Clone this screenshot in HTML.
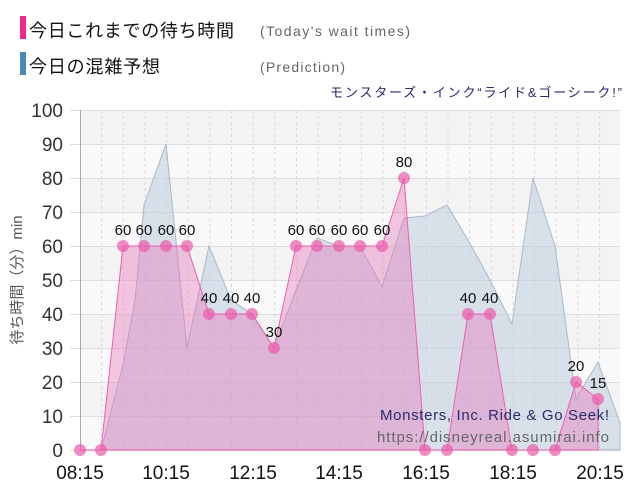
<!DOCTYPE html>
<html><head><meta charset="utf-8"><style>
body{margin:0;background:#fff;width:640px;height:500px;overflow:hidden}
svg{display:block}
text{font-family:"Liberation Sans","Noto Sans CJK JP",sans-serif}
</style></head><body>
<svg width="640" height="500" viewBox="0 0 640 500">
<rect x="20" y="16" width="6" height="23" fill="#f0288c"/>
<text x="29" y="37" font-size="18" fill="#111" textLength="205">今日これまでの待ち時間</text>
<text x="260" y="36" font-size="14" fill="#666" textLength="150">(Today's wait times)</text>
<rect x="20" y="52" width="6" height="23" fill="#4a86b8"/>
<text x="29" y="73" font-size="18" fill="#111" textLength="131">今日の混雑予想</text>
<text x="260" y="72" font-size="14" fill="#666" textLength="85">(Prediction)</text>
<text x="330" y="97" font-size="13" fill="#2a2a70" textLength="292">モンスターズ・インク“ライド&amp;ゴーシーク!”</text>
<g fill="#f3f3f3">
<rect x="80" y="110" width="540" height="34"/><rect x="80" y="178" width="540" height="34"/><rect x="80" y="246" width="540" height="34"/><rect x="80" y="314" width="540" height="34"/><rect x="80" y="382" width="540" height="34"/>
</g>
<g fill="#f9f9f9">
<rect x="80" y="144" width="540" height="34"/><rect x="80" y="212" width="540" height="34"/><rect x="80" y="280" width="540" height="34"/><rect x="80" y="348" width="540" height="34"/><rect x="80" y="416" width="540" height="34"/>
</g>
<g stroke="#ddd" stroke-width="1">
<line x1="70" y1="110.5" x2="620" y2="110.5"/><line x1="70" y1="144.5" x2="620" y2="144.5"/><line x1="70" y1="178.5" x2="620" y2="178.5"/><line x1="70" y1="212.5" x2="620" y2="212.5"/><line x1="70" y1="246.5" x2="620" y2="246.5"/><line x1="70" y1="280.5" x2="620" y2="280.5"/><line x1="70" y1="314.5" x2="620" y2="314.5"/><line x1="70" y1="348.5" x2="620" y2="348.5"/><line x1="70" y1="382.5" x2="620" y2="382.5"/><line x1="70" y1="416.5" x2="620" y2="416.5"/><line x1="70" y1="450.5" x2="620" y2="450.5"/>
</g>
<g stroke="#d8d8e4" stroke-width="1" stroke-dasharray="3,3">
<line x1="101.6" y1="110" x2="101.6" y2="450"/><line x1="123.3" y1="110" x2="123.3" y2="450"/><line x1="144.9" y1="110" x2="144.9" y2="450"/><line x1="166.6" y1="110" x2="166.6" y2="450"/><line x1="188.2" y1="110" x2="188.2" y2="450"/><line x1="209.9" y1="110" x2="209.9" y2="450"/><line x1="231.5" y1="110" x2="231.5" y2="450"/><line x1="253.2" y1="110" x2="253.2" y2="450"/><line x1="274.8" y1="110" x2="274.8" y2="450"/><line x1="296.5" y1="110" x2="296.5" y2="450"/><line x1="318.1" y1="110" x2="318.1" y2="450"/><line x1="339.8" y1="110" x2="339.8" y2="450"/><line x1="361.4" y1="110" x2="361.4" y2="450"/><line x1="383.1" y1="110" x2="383.1" y2="450"/><line x1="404.7" y1="110" x2="404.7" y2="450"/><line x1="426.4" y1="110" x2="426.4" y2="450"/><line x1="448" y1="110" x2="448" y2="450"/><line x1="469.7" y1="110" x2="469.7" y2="450"/><line x1="491.3" y1="110" x2="491.3" y2="450"/><line x1="513" y1="110" x2="513" y2="450"/><line x1="534.6" y1="110" x2="534.6" y2="450"/><line x1="556.3" y1="110" x2="556.3" y2="450"/><line x1="577.9" y1="110" x2="577.9" y2="450"/><line x1="599.6" y1="110" x2="599.6" y2="450"/>
</g>
<line x1="80.5" y1="110" x2="80.5" y2="450" stroke="#aaa"/>
<polygon fill="rgba(190,205,220,0.55)" stroke="#a9b9cc" stroke-width="1" points="80,450 101,450 123,365 135,300 144,205 166,144 187,348 209,246 231,300 252,314 274,348 296,290 317,238 339,246 360,246 382,287 404,218 425,216 447,205 468,240 490,280 512,324 533,178 555,246 576,399 598,362 620,423 620,450"/>
<polygon fill="rgba(235,110,185,0.38)" stroke="#ee5fae" stroke-width="1" points="80,450 101,450 123,246 144,246 166,246 187,246 209,314 231,314 252,314 274,348 296,246 317,246 339,246 360,246 382,246 404,178 425,450 447,450 468,314 490,314 512,450 533,450 555,450 576,382 598,399 598,450"/>
<g fill="rgba(235,90,170,0.7)">
<circle cx="80" cy="450" r="6"/><circle cx="101" cy="450" r="6"/><circle cx="123" cy="246" r="6"/><circle cx="144" cy="246" r="6"/><circle cx="166" cy="246" r="6"/><circle cx="187" cy="246" r="6"/><circle cx="209" cy="314" r="6"/><circle cx="231" cy="314" r="6"/><circle cx="252" cy="314" r="6"/><circle cx="274" cy="348" r="6"/><circle cx="296" cy="246" r="6"/><circle cx="317" cy="246" r="6"/><circle cx="339" cy="246" r="6"/><circle cx="360" cy="246" r="6"/><circle cx="382" cy="246" r="6"/><circle cx="404" cy="178" r="6"/><circle cx="425" cy="450" r="6"/><circle cx="447" cy="450" r="6"/><circle cx="468" cy="314" r="6"/><circle cx="490" cy="314" r="6"/><circle cx="512" cy="450" r="6"/><circle cx="533" cy="450" r="6"/><circle cx="555" cy="450" r="6"/><circle cx="576" cy="382" r="6"/><circle cx="598" cy="399" r="6"/>
</g>
<g font-size="15" fill="#111" text-anchor="middle">
<text x="123" y="235">60</text><text x="144" y="235">60</text><text x="166" y="235">60</text><text x="187" y="235">60</text>
<text x="209" y="303">40</text><text x="231" y="303">40</text><text x="252" y="303">40</text><text x="274" y="337">30</text>
<text x="296" y="235">60</text><text x="317" y="235">60</text><text x="339" y="235">60</text><text x="360" y="235">60</text><text x="382" y="235">60</text>
<text x="404" y="167">80</text><text x="468" y="303">40</text><text x="490" y="303">40</text><text x="576" y="371">20</text><text x="598" y="388">15</text>
</g>
<text x="380" y="420" font-size="15" fill="#2a2a70" textLength="229">Monsters, Inc. Ride &amp; Go Seek!</text>
<text x="377" y="442" font-size="15" fill="#666" textLength="232">https://disneyreal.asumirai.info</text>
<g font-size="19" fill="#333" text-anchor="end">
<text x="63" y="117">100</text><text x="63" y="151">90</text><text x="63" y="185">80</text><text x="63" y="219">70</text><text x="63" y="253">60</text><text x="63" y="287">50</text><text x="63" y="321">40</text><text x="63" y="355">30</text><text x="63" y="389">20</text><text x="63" y="423">10</text><text x="63" y="457">0</text>
</g>
<g font-size="19" fill="#111" text-anchor="middle">
<text x="80" y="479">08:15</text><text x="166" y="479">10:15</text><text x="253" y="479">12:15</text><text x="339" y="479">14:15</text><text x="426" y="479">16:15</text><text x="513" y="479">18:15</text><text x="600" y="479">20:15</text>
</g>
<text transform="translate(22,280) rotate(-90)" font-size="15" fill="#555" text-anchor="middle">待ち時間（分）min</text>
</svg>
</body></html>
